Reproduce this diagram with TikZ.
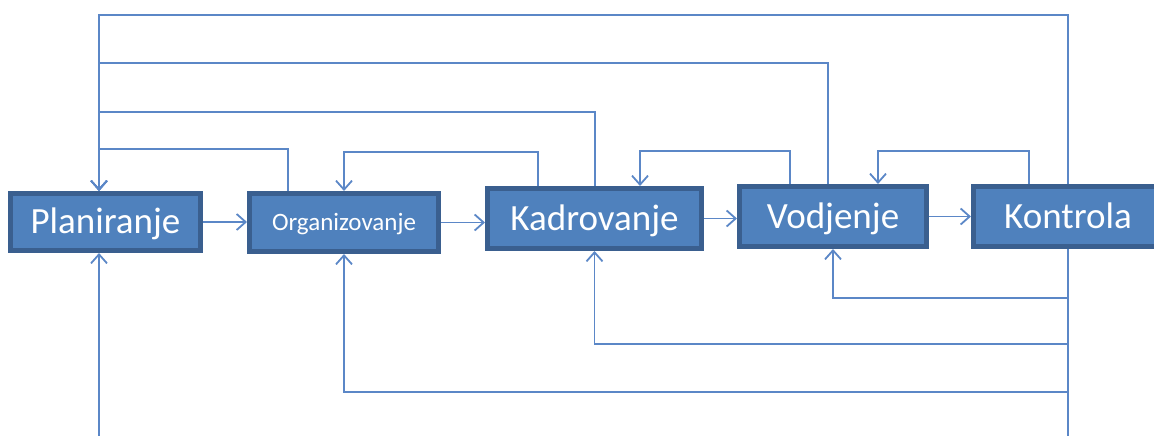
\documentclass[tikz,border=0pt]{standalone}
\usepackage{fontspec}
\setmainfont{Carlito}
\usetikzlibrary{arrows.meta}
\definecolor{boxfill}{HTML}{4F81BD}
\definecolor{boxline}{HTML}{3A5F8F}
\definecolor{wirecol}{HTML}{5B87C7}
\tikzset{
  stage/.style={rectangle, draw=boxline, fill=boxfill, line width=5pt,
    text=white, font=\fontsize{37}{40}\selectfont, inner sep=0pt,
    text height=23.8pt, text depth=0pt},
  smallstage/.style={stage, font=\fontsize{25}{28}\selectfont,
    text height=16.1pt},
  wire/.style={draw=wirecol, line width=1.8pt},
  flow/.style={wire, -{Straight Barb[length=9pt,width=16pt]}},
}
\begin{document}
\begin{tikzpicture}[x=1pt,y=-1pt]
\useasboundingbox (0,0) rectangle (1154,436);
\clip (0,0) rectangle (1154,436);

% management functions
\node[stage, minimum width=190pt, minimum height=57pt]      (P)  at (105.5,222)   {Planiranje};
\node[smallstage, minimum width=189pt, minimum height=58pt] (O)  at (344,222.5)   {Organizovanje};
\node[stage, minimum width=214pt, minimum height=60pt]      (K)  at (594.5,218.5) {Kadrovanje};
\node[stage, minimum width=187pt, minimum height=60pt]      (V)  at (833,216.5)   {Vodjenje};
\node[stage, minimum width=189pt, minimum height=60pt]      (Ko) at (1068,216.5)  {Kontrola};

% columns and rows of the feedback wiring
\coordinate (xP)   at (99,0);
\coordinate (xO1)  at (288,0);
\coordinate (xK1)  at (538,0);
\coordinate (xK2)  at (595,0);
\coordinate (xK3)  at (640,0);
\coordinate (xV1)  at (790,0);
\coordinate (xV2)  at (828,0);
\coordinate (xV3)  at (878,0);
\coordinate (xKo1) at (1029,0);
\coordinate (yT1)  at (0,15);
\coordinate (yT2)  at (0,63);
\coordinate (yT3)  at (0,112);
\coordinate (yT4)  at (0,149);
\coordinate (yT5)  at (0,152);
\coordinate (yT6)  at (0,151);
\coordinate (yB1)  at (0,298);
\coordinate (yB2)  at (0,344);
\coordinate (yB3)  at (0,392);
\coordinate (yEnd) at (0,450);

% main sequence
\draw[flow] (P.east)  -- (P.east -| O.west);
\draw[flow] (O.east)  -- (O.east -| K.west);
\draw[flow] (K.east)  -- (K.east -| V.west);
\draw[flow] (V.east)  -- (V.east -| Ko.west);

% returns to planning along the top
\draw[flow] (Ko.north)       |- (yT1 -| xP) -- (xP |- P.north);
\draw[flow] (xV2 |- V.north) |- (yT2 -| xP) -- (xP |- P.north);
\draw[flow] (xK2 |- K.north) |- (yT3 -| xP) -- (xP |- P.north);
\draw[flow] (xO1 |- O.north) |- (yT4 -| xP) -- (xP |- P.north);

% returns to the preceding step
\draw[flow] (xK1 |- K.north)   |- (yT5 -| O.north) -- (O.north);
\draw[flow] (xV1 |- V.north)   |- (yT6 -| xK3) -- (xK3 |- K.north);
\draw[flow] (xKo1 |- Ko.north) |- (yT6 -| xV3) -- (xV3 |- V.north);

% returns from control along the bottom
\draw[wire] (Ko.south) -- (Ko.south |- yEnd);
\draw[flow] (Ko.south |- yB1) -| (V.south);
\draw[flow] (Ko.south |- yB2) -| (K.south);
\draw[flow] (Ko.south |- yB3) -| (O.south);
\draw[flow] (xP |- yEnd) -- (xP |- P.south);
\end{tikzpicture}
\end{document}
